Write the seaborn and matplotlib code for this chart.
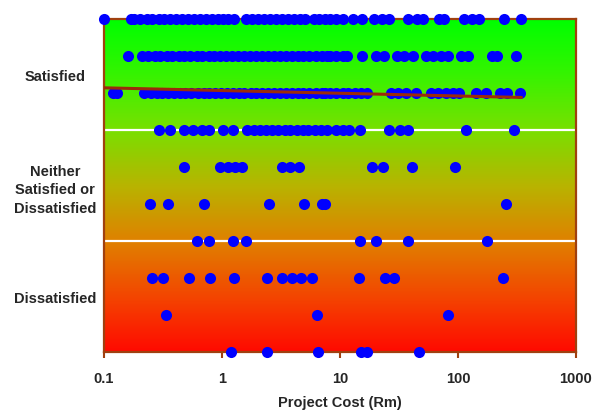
"""
Project satisfaction vs project cost, log-scale scatter on a
green-to-red gradient background.
"""

import numpy as np
import pandas as pd
import matplotlib
matplotlib.use("Agg")
import matplotlib.pyplot as plt
from matplotlib.colors import LinearSegmentedColormap
import seaborn as sns


# ── Data (project cost in Rm, one list per satisfaction level) ────────────────

level_10 = [0.1, 0.17, 0.18, 0.2, 0.23, 0.255, 0.29, 0.32, 0.36, 0.41, 0.46, 0.52,
            0.58, 0.65, 0.73, 0.82, 0.92, 1.02, 1.12, 1.26, 1.6, 1.8, 2.0, 2.25,
            2.55, 2.85, 3.2, 3.6, 4.05, 4.55, 5.1, 6.0, 6.7, 7.5, 8.3, 9.3, 10.7,
            13, 15.5, 19.5, 22.7, 26, 38, 45, 51, 69, 76, 112, 131, 150, 245, 340]
level_9 = [0.16, 0.21, 0.235, 0.27, 0.3, 0.34, 0.38, 0.43, 0.48, 0.54, 0.61, 0.68,
           0.77, 0.86, 0.97, 1.09, 1.22, 1.37, 1.54, 1.73, 1.95, 2.2, 2.45, 2.75,
           3.1, 3.5, 3.9, 4.4, 4.9, 5.5, 6.2, 7.0, 7.8, 8.3, 9.3, 10.5, 11.5, 15.3,
           20, 23.5, 30.5, 35, 41.5, 54, 61, 72, 82, 106, 121, 195, 215, 310]
level_8 = [0.12, 0.13, 0.22, 0.25, 0.28, 0.31, 0.35, 0.39, 0.44, 0.49, 0.55, 0.62,
           0.7, 0.78, 0.88, 0.98, 1.1, 1.25, 1.4, 1.55, 1.75, 1.95, 2.2, 2.45, 2.75,
           3.1, 3.5, 3.9, 4.4, 4.9, 5.5, 6.2, 7.0, 7.5, 8.2, 9.3, 10.5, 11.8, 13.3,
           15, 17, 27, 31, 36, 44, 59, 68, 79, 90, 102, 142, 172, 225, 260, 335]
level_7 = [0.29, 0.36, 0.48, 0.57, 0.68, 0.78, 1.02, 1.24, 1.63, 1.85, 2.1, 2.35,
           2.65, 3.0, 3.4, 3.8, 4.3, 4.85, 5.4, 6.1, 6.9, 7.8, 9.3, 10.5, 12, 14.8,
           26, 32, 38, 116, 296]
level_6 = [0.48, 0.96, 1.12, 1.29, 1.47, 3.2, 3.8, 4.5, 18.6, 23, 40.7, 95]
level_5 = [0.245, 0.35, 0.7, 2.5, 4.95, 7.0, 7.5, 255]
level_4 = [0.61, 0.78, 1.24, 1.6, 14.8, 20, 38, 177]
level_3 = [0.255, 0.316, 0.53, 0.79, 1.26, 2.4, 3.2, 3.9, 4.7, 5.8, 14.5, 24, 28.5, 240]
level_2 = [0.335, 6.4, 82]
level_1 = [1.2, 2.4, 6.5, 15, 17, 46.5]

trend_cost = [0.1, 345]
trend_level = [8.14, 7.88]

band_ticks = [2.5, 5.5, 8.5]
band_labels = ["Dissatisfied", "Neither\nSatisfied or\nDissatisfied", "Satisfied"]
band_edges = [4, 7]

x_ticks = [0.1, 1, 10, 100, 1000]
x_tick_labels = ["0.1", "1", "10", "100", "1000"]


# ── Build the table ───────────────────────────────────────────────────────────

levels = [level_1, level_2, level_3, level_4, level_5,
          level_6, level_7, level_8, level_9, level_10]
df = pd.concat(
    [pd.DataFrame({"cost": costs, "level": i + 1}) for i, costs in enumerate(levels)],
    ignore_index=True,
)


# ── Plot ──────────────────────────────────────────────────────────────────────

sns.set_style("white")
plt.rcParams["font.family"] = ["Liberation Sans", "DejaVu Sans"]
plt.rcParams["font.weight"] = "bold"

fig = plt.figure(figsize=(5.93, 4.14), dpi=100)
ax = fig.add_axes([104 / 593, 1 - 353 / 414, 472 / 593, 333 / 414])

# gradient background: red at the bottom, green at the top
grad_cmap = LinearSegmentedColormap.from_list("sat", [
    (0.0, "#ff0a00"), (0.15, "#f54000"), (0.33, "#e08000"), (0.5, "#b8b400"),
    (0.67, "#78e000"), (0.85, "#30f500"), (1.0, "#00ff00"),
])
ax.imshow(np.linspace(0, 1, 256).reshape(-1, 1), cmap=grad_cmap, origin="lower",
          extent=[0, 1, 0, 1], transform=ax.transAxes, aspect="auto", zorder=0)

for y in band_edges:
    ax.axhline(y, color="white", linewidth=1.6, zorder=1)

sns.scatterplot(data=df, x="cost", y="level", color="#0000ff", s=64,
                linewidth=0, clip_on=False, zorder=3, ax=ax, legend=False)
sns.lineplot(x=trend_cost, y=trend_level, color="#9c2a0a", linewidth=2.2,
             zorder=4, ax=ax)

ax.set_xscale("log")
ax.set_xlim(0.1, 1000)
ax.set_ylim(1, 10)

ax.set_xticks(x_ticks)
ax.set_xticklabels(x_tick_labels, fontsize=10.5, fontweight="bold")
ax.xaxis.set_minor_locator(matplotlib.ticker.NullLocator())
ax.tick_params(axis="x", which="major", direction="out", length=4, width=1.5,
               color="#a0400f", pad=10, bottom=True)

ax.set_yticks(band_ticks)
ax.set_yticklabels(band_labels, fontsize=10.5, fontweight="bold")
ax.tick_params(axis="y", length=0, pad=35)
for lbl in ax.get_yticklabels():
    lbl.set_horizontalalignment("center")
    lbl.set_multialignment("center")
    lbl.set_linespacing(1.45)

ax.set_xlabel("Project Cost (Rm)", fontsize=10.5, fontweight="bold", labelpad=7)
ax.set_ylabel("")

for side in ["left", "right", "top", "bottom"]:
    ax.spines[side].set_visible(True)
    ax.spines[side].set_color("#a0400f")
    ax.spines[side].set_linewidth(1.6)
    ax.spines[side].set_zorder(2)

fig.savefig("out.png", dpi=100)
plt.close(fig)
